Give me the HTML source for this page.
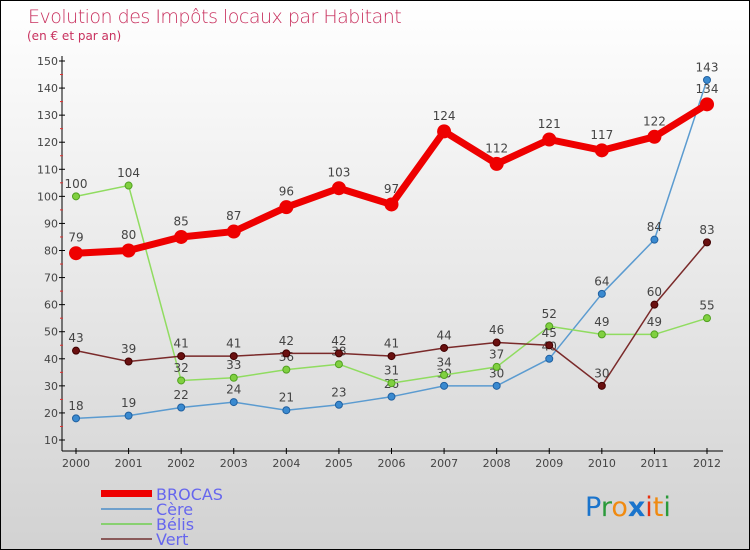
<!DOCTYPE html>
<html><head><meta charset="utf-8"><style>
body{margin:0}
#c{width:750px;height:550px;position:relative;overflow:hidden;box-sizing:border-box;border:1px solid #000;background:linear-gradient(#ffffff,#d2d2d2);font-family:"DejaVu Sans","Liberation Sans",sans-serif}
</style></head><body>
<div id="c">
<svg id="s" width="750" height="550" style="position:absolute;left:0;top:0">
<text x="27" y="22" font-size="19" fill="#c8305e" font-family="DejaVu Sans, sans-serif" font-weight="200" style="letter-spacing:-0.5px">Evolution des Impôts locaux par Habitant</text>
<text x="26" y="39" font-size="12" fill="#c8305e">(en € et par an)</text>
<g id="axes"></g><g id="series"></g>
<g>
<rect x="100" y="489" width="51" height="7" fill="#ee0000"/>
<text x="155" y="499" font-size="16" fill="#6666ee">BROCAS</text>
<rect x="100" y="507" width="51" height="2" fill="#6fa0cc"/>
<text x="155" y="514" font-size="16" fill="#6666ee">Cère</text>
<rect x="100" y="522" width="51" height="2" fill="#88d070"/>
<text x="155" y="529" font-size="16" fill="#6666ee">Bélis</text>
<rect x="100" y="537" width="51" height="2" fill="#8a5a5a"/>
<text x="155" y="544" font-size="16" fill="#6666ee">Vert</text>
</g>
<g font-size="27" font-family="DejaVu Sans, sans-serif">
<text x="584" y="515"><tspan fill="#1a74cc">P</tspan><tspan fill="#2a9a3a">r</tspan><tspan fill="#f08a10">o</tspan><tspan fill="#1a74cc" font-weight="bold">x</tspan><tspan fill="#e83010">i</tspan><tspan fill="#f08a10">t</tspan><tspan fill="#2a9a3a">i</tspan></text>
</g>
</svg>
</div>
<script>
const years=[2000,2001,2002,2003,2004,2005,2006,2007,2008,2009,2010,2011,2012];
const brocas=[79,80,85,87,96,103,97,124,112,121,117,122,134];
const cere=[18,19,22,24,21,23,26,30,30,40,64,84,143];
const belis=[100,104,32,33,36,38,31,34,37,52,49,49,55];
const vert=[43,39,41,41,42,42,41,44,46,45,30,60,83];
const yTicks=[10,20,30,40,50,60,70,80,90,100,110,120,130,140,150];
const NS="http://www.w3.org/2000/svg";
function X(i){return 75+i*(706-75)/12;}
function Y(v){return 439-(v-10)*(439-60)/140;}
function mk(t,a,p){const e=document.createElementNS(NS,t);for(const k in a)e.setAttribute(k,a[k]);p.appendChild(e);return e;}
const ax=document.getElementById('axes');
let l=mk('line',{x1:61,y1:55,x2:61,y2:450,stroke:'#000'},ax);


l=mk('line',{x1:61,y1:450,x2:722,y2:450,stroke:'#000'},ax);


yTicks.forEach(v=>{
 mk('line',{x1:58,y1:Y(v),x2:64,y2:Y(v),stroke:'#000'},ax);
 if(v<150)mk('line',{x1:59,y1:Y(v+5),x2:62,y2:Y(v+5),stroke:'#e03030'},ax);
 const t=mk('text',{x:57,y:Y(v)+4,'font-size':11,'text-anchor':'end',fill:'#444'},ax);
 t.textContent=v;
 
 
});
years.forEach((y,i)=>{
 mk('line',{x1:X(i),y1:447,x2:X(i),y2:453,stroke:'#000'},ax);
 const t=mk('text',{x:X(i),y:466,'font-size':11,'text-anchor':'middle',fill:'#444'},ax);
 t.textContent=y;
 
 
});
const sg=document.getElementById('series');
function draw(vals,name,color,w,r,dot,stroke){
 const g=mk('g',{},sg);
 
 
 const p=mk('polyline',{points:vals.map((v,i)=>X(i)+','+Y(v)).join(' '),fill:'none',stroke:color,'stroke-width':w,'stroke-linejoin':'round'},g);
 
 
 vals.forEach((v,i)=>{
  const c=mk('circle',{cx:X(i),cy:Y(v),r:r,fill:dot,stroke:stroke,'stroke-width':1},g);
  
  
  const t=mk('text',{x:X(i),y:Y(v)-(r+5),'font-size':12,'text-anchor':'middle',fill:'#444'},g);
  t.textContent=v;
  
  
 });
}
draw(cere,'cere','#5b9bd0',1.5,3.5,'#3a8ad0','#2060a0');
draw(belis,'belis','#90dc60',1.5,3.5,'#80d040','#50a020');
draw(vert,'vert','#7a2a2a',1.5,3.5,'#6a1010','#400000');
draw(brocas,'brocas','#ee0000',7,6.5,'#ee0000','#ee0000');
</script>
</body></html>
